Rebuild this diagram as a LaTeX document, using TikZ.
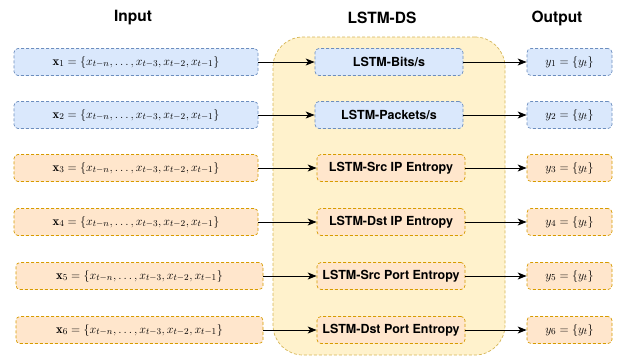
\documentclass[tikz,border=0pt]{standalone}
\usepackage{fontspec}
\setsansfont{TeX Gyre Heros}
\usetikzlibrary{arrows.meta}
\definecolor{bluefill}{HTML}{DAE8FC}
\definecolor{blueline}{HTML}{6C8EBF}
\definecolor{orfill}{HTML}{FFE6CC}
\definecolor{orline}{HTML}{D79B00}
\definecolor{yfill}{HTML}{FFF2CC}
\definecolor{yline}{HTML}{D6B656}
\tikzset{
  boxbase/.style={rounded corners=4pt, dash pattern=on 3pt off 2pt, line width=0.7pt, minimum height=27pt, inner sep=0pt, font=\fontsize{12.6}{14}\selectfont},
  bluebox/.style={boxbase, fill=bluefill, draw=blueline},
  orbox/.style={boxbase, fill=orfill, draw=orline},
  lstm/.style={font=\sffamily\bfseries\fontsize{12.5}{14}\selectfont, minimum width=148pt},
  inbox/.style={minimum width=244pt},
  outbox/.style={minimum width=85pt},
  heading/.style={font=\sffamily\bfseries\fontsize{15.5}{18}\selectfont},
  conn/.style={-{Stealth[length=9pt,width=7pt,inset=2.5pt]}, line width=1pt},
}
\begin{document}
\begin{tikzpicture}[x=1pt,y=-1pt]
\useasboundingbox (0,0) rectangle (619,357);
% container
\node[draw=yline, fill=yfill, dash pattern=on 3pt off 2pt, line width=0.7pt, rounded corners=30pt,
      minimum width=232pt, minimum height=318pt, inner sep=0pt] (ds) at (389,196) {};
% headings
\node[heading] (hin) at (133,18) {Input};
\node[heading] (hds) at (382,18) {LSTM-DS};
\node[heading] (hout) at (557,18) {Output};
% inputs
\node[bluebox, inbox] (i1) at (136,62) {$\mathbf{x}_1 = \{x_{t-n},\ldots,x_{t-3},x_{t-2},x_{t-1}\}$};
\node[bluebox, inbox] (i2) at (136,115) {$\mathbf{x}_2 = \{x_{t-n},\ldots,x_{t-3},x_{t-2},x_{t-1}\}$};
\node[orbox, inbox] (i3) at (136,168) {$\mathbf{x}_3 = \{x_{t-n},\ldots,x_{t-3},x_{t-2},x_{t-1}\}$};
\node[orbox, inbox] (i4) at (136,222) {$\mathbf{x}_4 = \{x_{t-n},\ldots,x_{t-3},x_{t-2},x_{t-1}\}$};
\node[orbox, minimum width=247pt] (i5) at (139.5,276) {$\mathbf{x}_5 = \{x_{t-n},\ldots,x_{t-3},x_{t-2},x_{t-1}\}$};
\node[orbox, minimum width=247pt] (i6) at (139.5,330) {$\mathbf{x}_6 = \{x_{t-n},\ldots,x_{t-3},x_{t-2},x_{t-1}\}$};
% LSTM
\node[bluebox, lstm] (m1) at (389,62) {LSTM-Bits/s};
\node[bluebox, lstm] (m2) at (389,115) {LSTM-Packets/s};
\node[orbox, lstm] (m3) at (391,168) {LSTM-Src IP Entropy};
\node[orbox, lstm] (m4) at (391,222) {LSTM-Dst IP Entropy};
\node[orbox, lstm] (m5) at (391,276) {LSTM-Src Port Entropy};
\node[orbox, lstm] (m6) at (391,330) {LSTM-Dst Port Entropy};
% outputs
\node[bluebox, outbox] (o1) at (569.5,62) {$y_1 = \{y_t\}$};
\node[bluebox, outbox] (o2) at (569.5,115) {$y_2 = \{y_t\}$};
\node[orbox, outbox] (o3) at (569.5,168) {$y_3 = \{y_t\}$};
\node[orbox, outbox] (o4) at (569.5,222) {$y_4 = \{y_t\}$};
\node[orbox, outbox] (o5) at (569.5,276) {$y_5 = \{y_t\}$};
\node[orbox, outbox] (o6) at (569.5,330) {$y_6 = \{y_t\}$};
% connectors
\foreach \k in {1,...,6}{
  \draw[conn] (i\k) -- (m\k);
  \draw[conn] (m\k) -- (o\k);
}
\end{tikzpicture}
\end{document}
